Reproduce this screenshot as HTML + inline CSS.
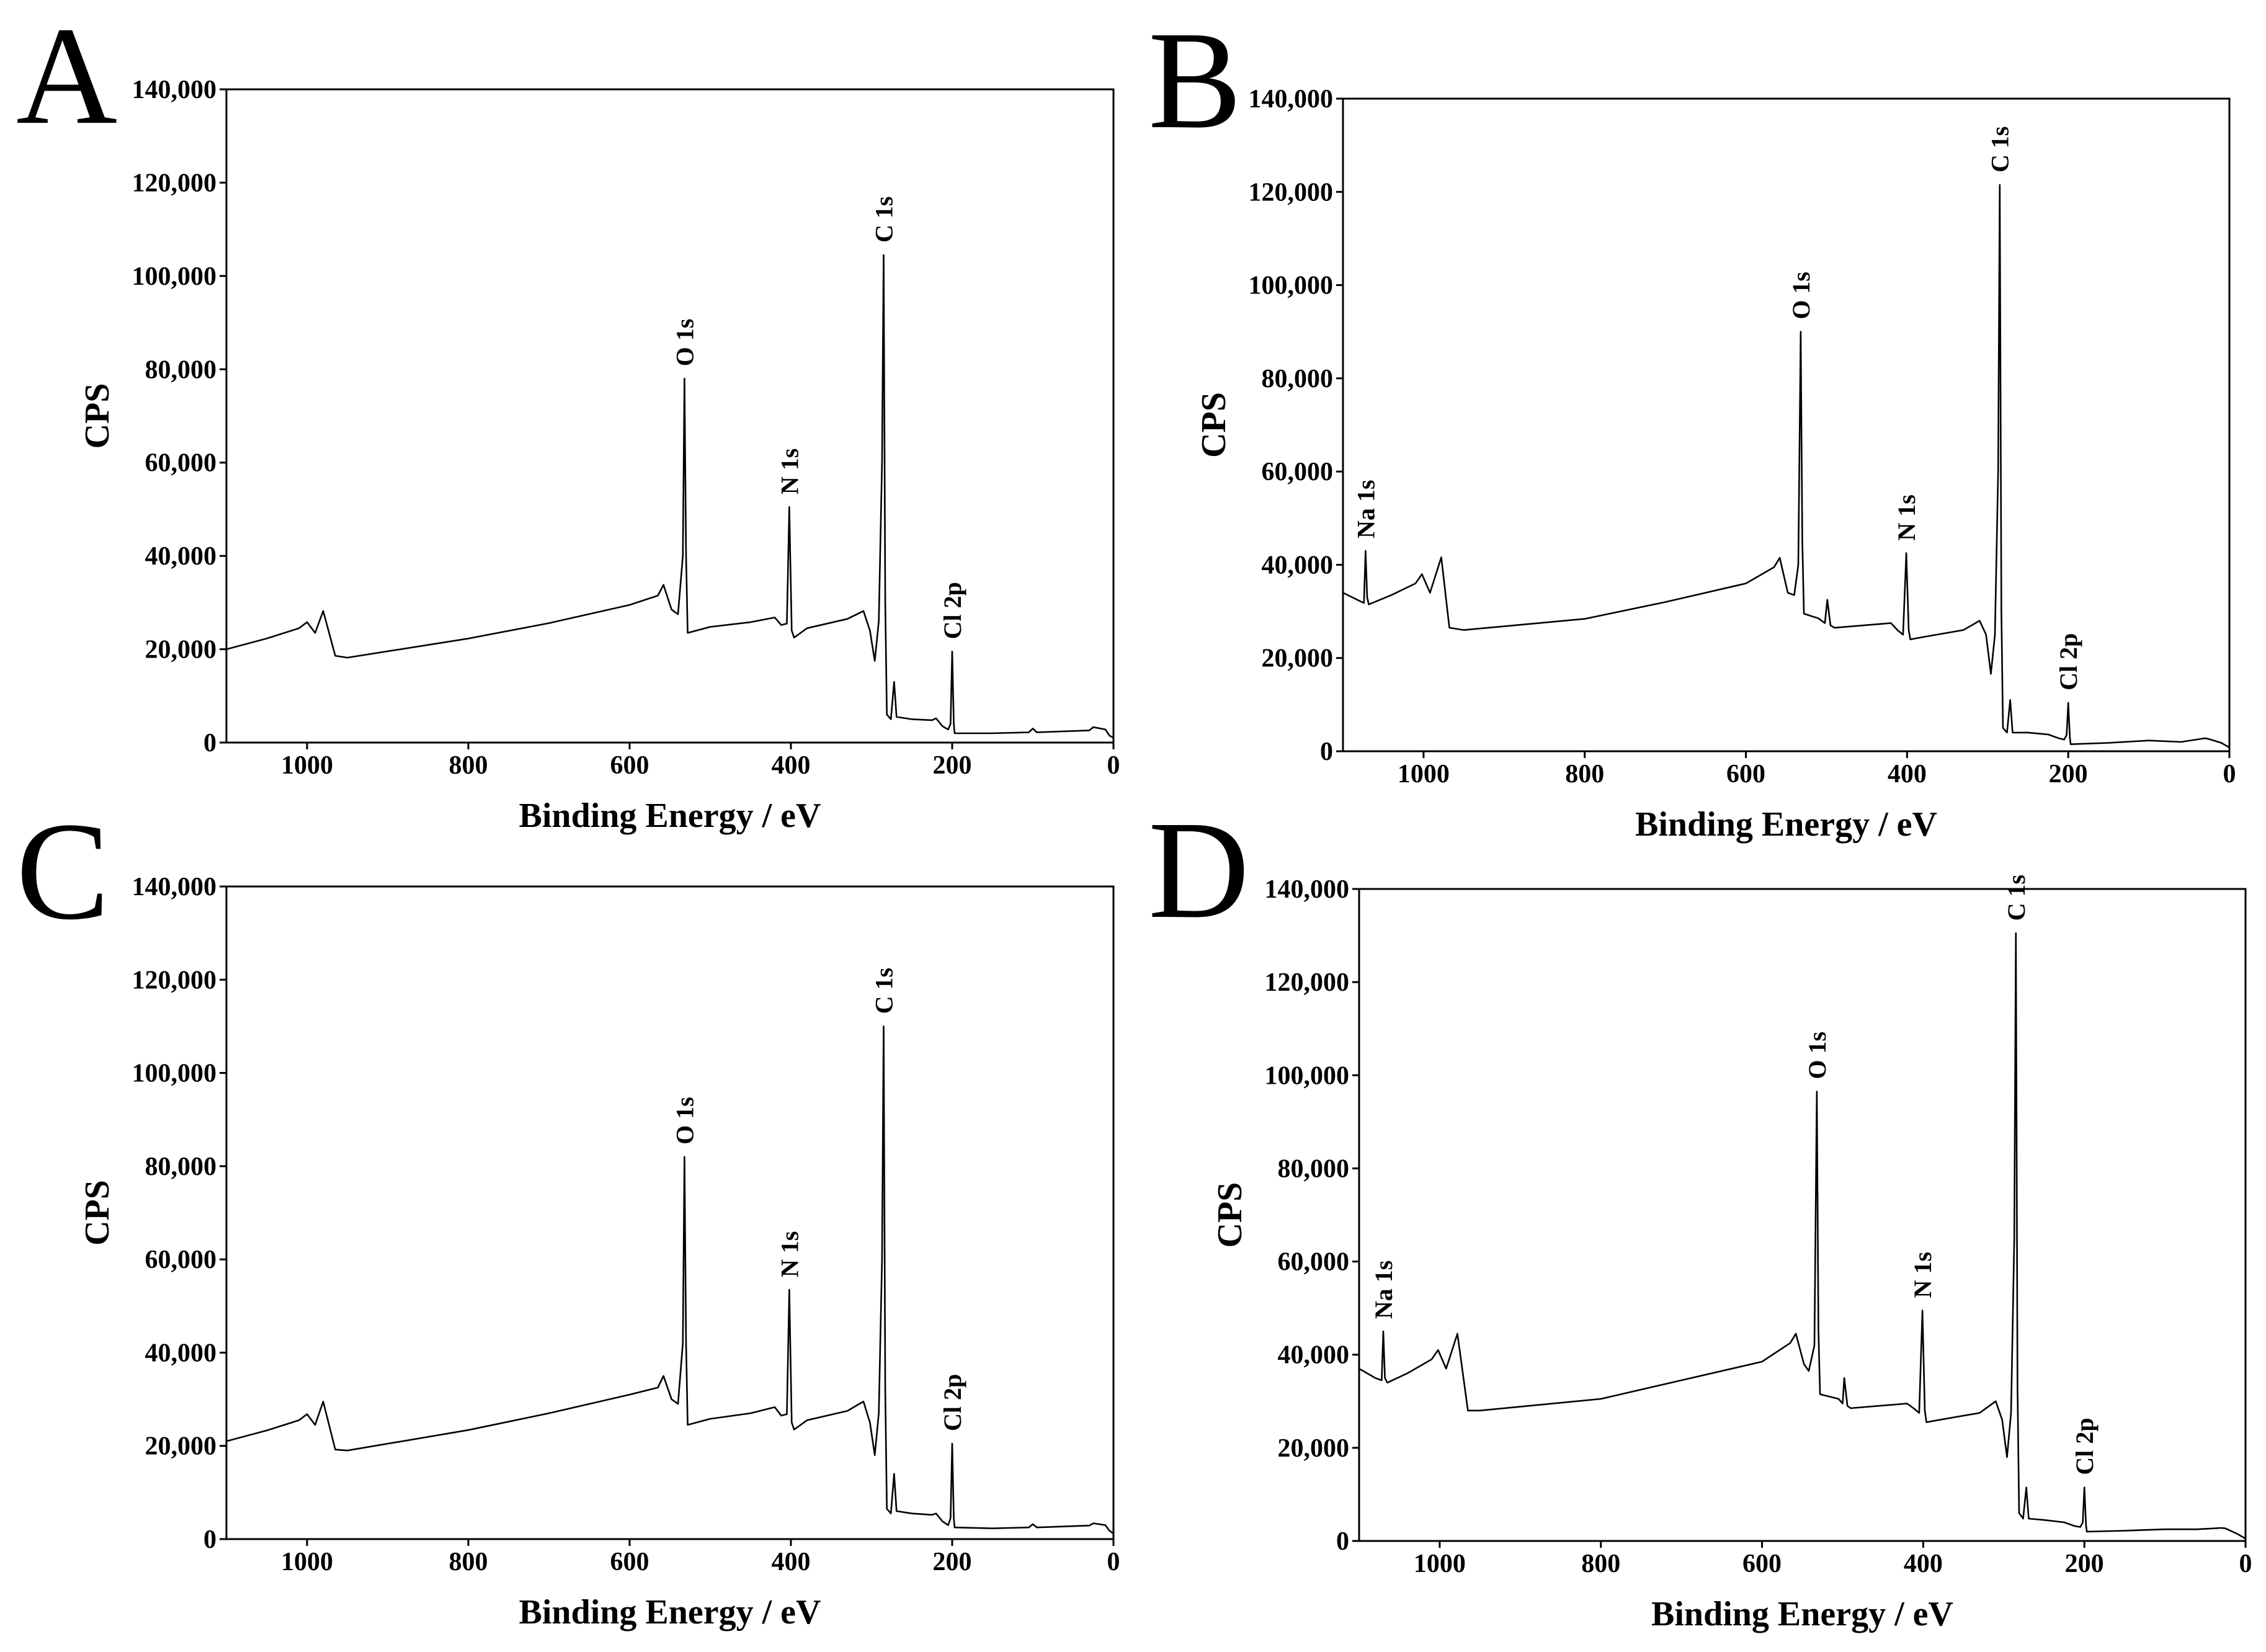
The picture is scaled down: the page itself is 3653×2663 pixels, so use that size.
<!DOCTYPE html>
<html><head><meta charset="utf-8"><style>
html,body{margin:0;padding:0;background:#fff;}
svg{display:block;}
text{font-family:"Liberation Serif",serif;fill:#000;}
</style></head><body>
<svg id="fig" width="3653" height="2663" viewBox="0 0 3653 2663" xmlns="http://www.w3.org/2000/svg"></svg>
<script>
// ---- data (binding energy eV, counts per second) ----
const xTicks = [1000, 800, 600, 400, 200, 0];
const yTicks = [0, 20000, 40000, 60000, 80000, 100000, 120000, 140000];
const yTickLabels = ["0","20,000","40,000","60,000","80,000","100,000","120,000","140,000"];

const beA  = [1100,1050,1010,1000,990,980,965,950,800,700,600,565,558,548,540,534,532,530,528,500,450,420,412,405,402,399,396,380,330,310,302,296,291,287,285,283,281,276,272,269,250,225,220,212,205,202,200,198,197,150,105,100,95,30,25,10,5,0];
const cpsA = [20000,22300,24500,25800,23500,28200,18600,18200,22300,25600,29500,31500,33800,28500,27500,40000,78000,40000,23500,24800,25800,26800,25200,25500,50500,24000,22500,24500,26500,28200,24000,17500,26000,60000,104500,30000,6000,5000,13000,5500,5000,4800,5200,3500,2800,4000,19500,4000,2000,2000,2200,3000,2200,2600,3300,2800,1500,1000];

const beB  = [1100,1080,1074,1072,1070,1068,1040,1010,1002,992,978,968,950,800,700,600,565,558,548,540,535,532,530,528,510,502,499,495,490,420,412,405,401,398,396,380,330,310,302,296,291,287,285,283,281,276,272,269,250,225,212,205,202,200,198,197,150,100,60,30,25,10,0];
const cpsB = [34000,32300,31800,43000,33000,31500,33500,36000,38000,34000,41600,26500,26000,28400,32000,36000,39500,41500,34000,33500,40000,90000,45000,29500,28500,27500,32500,27000,26500,27500,26000,25000,42500,26000,24000,24500,26000,28000,25000,16600,25000,60000,121500,30000,5000,4000,11000,4000,4000,3600,2800,2500,3500,10400,3000,1500,1800,2300,2000,2800,2600,1800,800];

const beC  = [1100,1050,1010,1000,990,980,965,950,800,700,600,565,558,548,540,534,532,530,528,500,450,420,412,405,402,399,396,380,330,310,302,296,291,287,285,283,281,276,272,269,250,225,220,212,205,202,200,198,197,150,105,100,95,30,25,10,5,0];
const cpsC = [21000,23300,25500,26800,24500,29500,19200,19000,23400,27000,31000,32500,35000,30000,29000,42000,82000,42000,24500,25800,27000,28300,26500,26800,53500,25000,23500,25500,27500,29500,25000,18000,27000,60000,110000,32000,6500,5500,14000,6000,5500,5200,5500,3800,3000,4500,20500,4500,2500,2300,2500,3200,2500,2900,3400,3000,1800,1200];

const beD  = [1100,1080,1072,1070,1068,1065,1040,1010,1002,992,978,965,950,800,700,600,565,558,548,542,535,532,530,528,505,500,498,494,490,420,412,405,401,398,396,380,330,310,302,296,291,287,285,283,281,276,272,269,250,225,212,205,202,200,198,197,150,100,60,30,25,10,0];
const cpsD = [37000,35000,34500,45000,35000,34000,36000,39000,41000,37000,44500,28000,28000,30500,34500,38500,42500,44500,38000,36500,42000,96500,45000,31500,30500,29500,35000,29000,28500,29500,28500,27500,49500,28000,25500,26000,27500,30000,26000,18000,27500,65000,130500,33000,6000,4800,11500,4800,4500,4000,3200,3000,4000,11500,3500,2000,2200,2500,2500,2800,2700,1500,500];

const peakNamesA = ["O 1s","N 1s","C 1s","Cl 2p"];
const peakBEA = [532,402,285,200];
const peakCpsA = [78000,50500,104500,19500];
const peakNamesB = ["Na 1s","O 1s","N 1s","C 1s","Cl 2p"];
const peakBEB = [1072,532,401,285,200];
const peakCpsB = [43000,90000,42500,121500,10400];
const peakNamesC = ["O 1s","N 1s","C 1s","Cl 2p"];
const peakBEC = [532,402,285,200];
const peakCpsC = [82000,53500,110000,20500];
const peakNamesD = ["Na 1s","O 1s","N 1s","C 1s","Cl 2p"];
const peakBED = [1070,532,401,285,200];
const peakCpsD = [45000,96500,49500,130500,11500];

const NS = "http://www.w3.org/2000/svg";
const svg = document.getElementById('fig');
function mk(tag, attrs, parent){
  const e = document.createElementNS(NS, tag);
  for (const k in attrs) e.setAttribute(k, attrs[k]);
  (parent||svg).appendChild(e);
  return e;
}

function panel(id, letter, letterX, letterY, L, T, R, B, be, cps, pNames, pBE, pCps){
  const g = mk('g', {});
  
  
  const xs = v => L + (1100 - v) / 1100 * (R - L);
  const ys = v => B - v / 140000 * (B - T);

  const lt = mk('text', {x:letterX, y:letterY, 'font-size':226}, g);
  lt.textContent = letter;
  
  

  xTicks.forEach(v => {
    const x = xs(v);
    const tk = mk('line', {x1:x, x2:x, y1:B, y2:B+11, stroke:'#000', 'stroke-width':3}, g);
    
    
    const t = mk('text', {x:x, y:B+50, 'font-size':42, 'font-weight':'bold', 'text-anchor':'middle'}, g);
    t.textContent = String(v);
    
    
  });
  yTicks.forEach((v, i) => {
    const y = ys(v);
    const tk = mk('line', {x1:L-11, x2:L, y1:y, y2:y, stroke:'#000', 'stroke-width':3}, g);
    
    
    const t = mk('text', {x:L-16, y:y+14, 'font-size':42, 'font-weight':'bold', 'text-anchor':'end'}, g);
    t.textContent = yTickLabels[i];
    
    
  });

  let d = '';
  be.forEach((v, i) => { d += (i ? 'L' : 'M') + xs(v).toFixed(1) + ',' + ys(cps[i]).toFixed(1); });
  const p = mk('path', {d:d, fill:'none', stroke:'#000', 'stroke-width':2.6, 'stroke-linejoin':'round'}, g);
  
  

  pNames.forEach((n, i) => {
    const x = xs(pBE[i]) + 14, y = ys(pCps[i]) - 20;
    const t = mk('text', {x:x, y:y, 'font-size':40, 'font-weight':'bold', transform:'rotate(-90 '+x+' '+y+')'}, g);
    t.textContent = n;
    
    
  });

  const fr = mk('rect', {x:L, y:T, width:R-L, height:B-T, fill:'none', stroke:'#000', 'stroke-width':3}, g);
  
  

  const xt = mk('text', {x:(L+R)/2, y:B+136, 'font-size':56, 'font-weight':'bold', 'text-anchor':'middle'}, g);
  xt.textContent = 'Binding Energy / eV';
  
  
  const cx = L - 190, cy = (T+B)/2;
  const yt = mk('text', {x:cx, y:cy, 'font-size':56, 'font-weight':'bold', 'text-anchor':'middle', transform:'rotate(-90 '+cx+' '+cy+')'}, g);
  yt.textContent = 'CPS';
  
  
}

panel('a', 'A', 26, 198, 365, 144, 1795, 1197, beA, cpsA, peakNamesA, peakBEA, peakCpsA);
panel('b', 'B', 1851, 205, 2165, 159, 3594, 1211, beB, cpsB, peakNamesB, peakBEB, peakCpsB);
panel('c', 'C', 26, 1480, 365, 1429, 1795, 2481, beC, cpsC, peakNamesC, peakBEC, peakCpsC);
panel('d', 'D', 1851, 1478, 2191, 1433, 3620, 2484, beD, cpsD, peakNamesD, peakBED, peakCpsD);
</script>
</body></html>
